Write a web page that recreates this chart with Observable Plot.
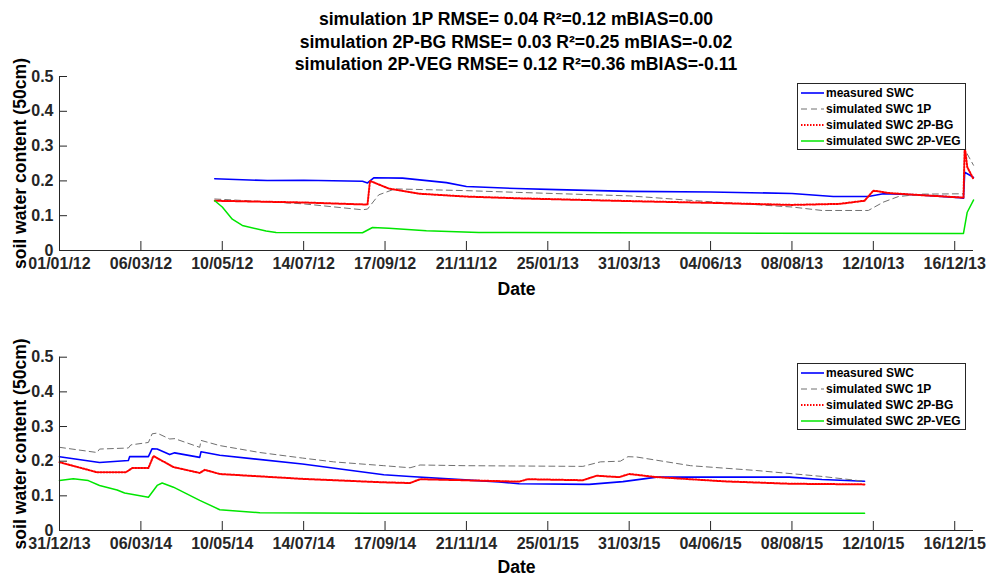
<!DOCTYPE html>
<html>
<head>
<meta charset="utf-8">
<script src="https://cdn.jsdelivr.net/npm/d3@7"></script>
<script src="https://cdn.jsdelivr.net/npm/@observablehq/plot@0.6"></script>
<style>
  html, body { margin: 0; padding: 0; background: #fff; }
  #root { position: relative; width: 987px; height: 575px; overflow: hidden; font-family: "Liberation Sans", Arial, sans-serif; color: #000; }
  #title { position: absolute; left: 59px; top: 8px; width: 914px; text-align: center; font-weight: bold; font-size: 17.6px; line-height: 22.5px; }
  .panel { position: absolute; left: 0; }
  .panel g[aria-label="x-axis label"], .panel g[aria-label="y-axis label"] { font-size: 17.6px; fill: #000; }
  .legend { position: absolute; width: 169px; height: 67px; border: 1px solid #262626; background: #fff; box-sizing: border-box; font-family: "Liberation Sans", Arial, sans-serif; font-weight: bold; font-size: 12px; color: #000; padding-top: 1px; }
  .legend .row { display: flex; align-items: center; height: 16px; }
  .legend svg { flex: none; }
</style>
</head>
<body>
<div id="root">
  <div id="title"></div>
</div>
<script>
const titleLines = [
  "simulation 1P RMSE= 0.04 R\u00b2=0.12 mBIAS=0.00",
  "simulation 2P-BG RMSE= 0.03 R\u00b2=0.25 mBIAS=-0.02",
  "simulation 2P-VEG RMSE= 0.12 R\u00b2=0.36 mBIAS=-0.11"
];
const seriesNames = ["measured SWC", "simulated SWC 1P", "simulated SWC 2P-BG", "simulated SWC 2P-VEG"];
const yTicks = [0, 0.1, 0.2, 0.3, 0.4, 0.5];
const yLabel = "soil water content (50cm)";
const xLabel = "Date";

// Panel 1 (2012-2013)
const domain1 = ["2012-01-01", "2013-12-31"];
const ticks1 = ["2012-01-01","2012-03-06","2012-05-10","2012-07-14","2012-09-17","2012-11-21","2013-01-25","2013-03-31","2013-06-04","2013-08-08","2013-10-12","2013-12-16"];
const measured1 = [["2012-05-04",0.206],["2012-06-15",0.201],["2012-07-14",0.202],["2012-08-30",0.199],["2012-09-03",0.194],["2012-09-08",0.209],["2012-10-01",0.208],["2012-11-05",0.195],["2012-11-21",0.184],["2012-12-31",0.178],["2013-02-01",0.175],["2013-03-31",0.170],["2013-06-04",0.168],["2013-08-08",0.164],["2013-09-10",0.155],["2013-10-08",0.155],["2013-10-20",0.163],["2013-11-15",0.160],["2013-12-20",0.152],["2013-12-23",0.150],["2013-12-24",0.225],["2013-12-31",0.210]];
const sim1P_1 = [["2012-05-04",0.148],["2012-06-15",0.140],["2012-07-14",0.134],["2012-08-30",0.117],["2012-09-03",0.119],["2012-09-12",0.160],["2012-09-25",0.177],["2012-11-21",0.172],["2013-01-01",0.167],["2013-03-31",0.157],["2013-06-04",0.140],["2013-08-08",0.125],["2013-09-01",0.115],["2013-10-08",0.115],["2013-10-20",0.139],["2013-11-01",0.155],["2013-11-20",0.162],["2013-12-23",0.163],["2013-12-24",0.290],["2013-12-31",0.245]];
const sim2PBG_1 = [["2012-05-04",0.143],["2012-07-14",0.138],["2012-09-03",0.132],["2012-09-05",0.200],["2012-09-20",0.178],["2012-10-15",0.163],["2012-11-21",0.155],["2013-01-01",0.150],["2013-03-31",0.142],["2013-06-04",0.137],["2013-08-08",0.131],["2013-09-15",0.134],["2013-10-05",0.143],["2013-10-12",0.172],["2013-10-25",0.165],["2013-11-15",0.160],["2013-12-23",0.152],["2013-12-24",0.300],["2013-12-26",0.240],["2013-12-31",0.205]];
const sim2PVEG_1 = [["2012-05-04",0.143],["2012-05-10",0.125],["2012-05-18",0.090],["2012-05-26",0.072],["2012-06-14",0.056],["2012-06-22",0.052],["2012-08-30",0.051],["2012-09-07",0.066],["2012-09-20",0.064],["2012-10-20",0.057],["2012-12-01",0.052],["2013-06-01",0.050],["2013-12-23",0.049],["2013-12-26",0.110],["2013-12-31",0.145]];

// Panel 2 (2014-2015)
const domain2 = ["2013-12-31", "2015-12-31"];
const ticks2 = ["2013-12-31","2014-03-06","2014-05-10","2014-07-14","2014-09-17","2014-11-21","2015-01-25","2015-03-31","2015-06-04","2015-08-08","2015-10-12","2015-12-16"];
const measured2 = [["2013-12-31",0.213],["2014-02-01",0.196],["2014-02-24",0.202],["2014-02-25",0.213],["2014-03-12",0.213],["2014-03-15",0.236],["2014-03-19",0.235],["2014-03-29",0.219],["2014-04-02",0.224],["2014-04-22",0.211],["2014-04-23",0.227],["2014-05-08",0.217],["2014-07-13",0.192],["2014-09-16",0.161],["2014-10-07",0.156],["2014-11-20",0.146],["2014-12-17",0.140],["2015-01-02",0.135],["2015-02-27",0.133],["2015-03-26",0.141],["2015-04-22",0.154],["2015-08-06",0.154],["2015-09-01",0.147],["2015-10-05",0.142]];
const sim1P_2 = [["2013-12-31",0.240],["2014-01-14",0.233],["2014-01-30",0.225],["2014-02-01",0.235],["2014-02-24",0.238],["2014-02-26",0.247],["2014-03-12",0.254],["2014-03-15",0.279],["2014-03-19",0.281],["2014-03-29",0.264],["2014-04-02",0.265],["2014-04-22",0.240],["2014-04-23",0.260],["2014-05-08",0.245],["2014-06-09",0.225],["2014-07-13",0.209],["2014-08-07",0.198],["2014-09-16",0.187],["2014-10-07",0.181],["2014-10-15",0.189],["2014-11-20",0.187],["2015-02-22",0.185],["2015-03-08",0.198],["2015-03-24",0.200],["2015-03-30",0.213],["2015-04-06",0.212],["2015-05-19",0.187],["2015-07-11",0.173],["2015-09-01",0.156],["2015-10-05",0.142]];
const sim2PBG_2 = [["2013-12-31",0.197],["2014-01-30",0.168],["2014-02-22",0.168],["2014-02-27",0.180],["2014-03-12",0.180],["2014-03-16",0.215],["2014-04-01",0.183],["2014-04-22",0.166],["2014-04-26",0.175],["2014-05-08",0.163],["2014-07-13",0.149],["2014-09-16",0.139],["2014-10-07",0.137],["2014-10-15",0.148],["2014-11-20",0.145],["2015-01-02",0.141],["2015-01-09",0.148],["2015-02-22",0.145],["2015-03-05",0.158],["2015-03-23",0.154],["2015-03-31",0.163],["2015-04-22",0.154],["2015-06-14",0.142],["2015-08-06",0.135],["2015-10-05",0.133]];
const sim2PVEG_2 = [["2013-12-31",0.144],["2014-01-11",0.149],["2014-01-23",0.144],["2014-02-01",0.130],["2014-02-15",0.117],["2014-02-21",0.108],["2014-03-12",0.096],["2014-03-19",0.130],["2014-03-23",0.137],["2014-04-01",0.125],["2014-04-22",0.087],["2014-05-08",0.060],["2014-06-09",0.051],["2014-09-01",0.050],["2015-10-05",0.050]];

const styles = [
  { stroke: "#0000ff", strokeWidth: 1.6 },
  { stroke: "#707070", strokeWidth: 1, strokeDasharray: "6,4" },
  { stroke: "#ff0000", strokeWidth: 2, strokeDasharray: "1.5,1.5" },
  { stroke: "#00e600", strokeWidth: 1.5 }
];

const parse = d3.utcParse("%Y-%m-%d");
const toRows = arr => arr.map(([d, v]) => ({ date: parse(d), value: v }));
const fmt = d3.utcFormat("%d/%m/%y");

function makePanel(seriesArrays, domain, ticks, height, marginTop, marginBottom, xLabelOffset) {
  const dom = domain.map(parse);
  const lines = seriesArrays.map((arr, i) =>
    Plot.line(toRows(arr), { x: "date", y: "value", ...styles[i] })
  );
  return Plot.plot({
    width: 987,
    height,
    marginLeft: 59,
    marginRight: 14,
    marginTop,
    marginBottom,
    style: { background: "transparent", overflow: "visible", fontFamily: "'Liberation Sans', Arial, sans-serif", fontSize: "16px", fontWeight: "bold", color: "#262626" },
    x: { type: "utc", domain: dom },
    y: { domain: [0, 0.5] },
    marks: [
      ...lines,
      Plot.ruleY([0], { stroke: "#262626" }),
      Plot.ruleX([dom[0]], { stroke: "#262626" }),
      Plot.axisY({
        ticks: yTicks, tickSize: -8, tickPadding: 14, stroke: "#262626",
        tickFormat: d => d === 0 ? "0" : d3.format(".1f")(d),
        label: yLabel, labelAnchor: "center", labelArrow: "none", labelOffset: 46, fill: "#262626"
      }),
      Plot.axisX({
        ticks: ticks.map(parse), tickSize: -9, tickPadding: 16, stroke: "#262626",
        tickFormat: fmt, label: xLabel, labelAnchor: "center", labelArrow: "none", labelOffset: xLabelOffset, fill: "#262626"
      })
    ]
  });
}

const root = document.getElementById("root");
document.getElementById("title").innerHTML = titleLines.map(t => `<div>${t}</div>`).join("");

function addPanel(plot, top) {
  const wrap = document.createElement("div");
  wrap.className = "panel";
  wrap.style.top = top + "px";
  wrap.appendChild(plot);
  root.appendChild(wrap);
}

addPanel(makePanel([measured1, sim1P_1, sim2PBG_1, sim2PVEG_1], domain1, ticks1, 230, 6, 50, 44), 70);
addPanel(makePanel([measured2, sim1P_2, sim2PBG_2, sim2PVEG_2], domain2, ticks2, 245, 26.7, 45, 42), 330);

function addLegend(left, top) {
  const lg = document.createElement("div");
  lg.className = "legend";
  lg.style.left = left + "px";
  lg.style.top = top + "px";
  seriesNames.forEach((name, i) => {
    const s = styles[i];
    const row = document.createElement("div");
    row.className = "row";
    row.innerHTML = `<svg width="28" height="16"><line x1="3" x2="26" y1="8" y2="8" stroke="${s.stroke}" stroke-width="${s.strokeWidth}" ${s.strokeDasharray ? `stroke-dasharray="${s.strokeDasharray}"` : ""}/></svg><span>${name}</span>`;
    lg.appendChild(row);
  });
  root.appendChild(lg);
}
addLegend(797, 83);
addLegend(797, 363);
</script>
</body>
</html>
